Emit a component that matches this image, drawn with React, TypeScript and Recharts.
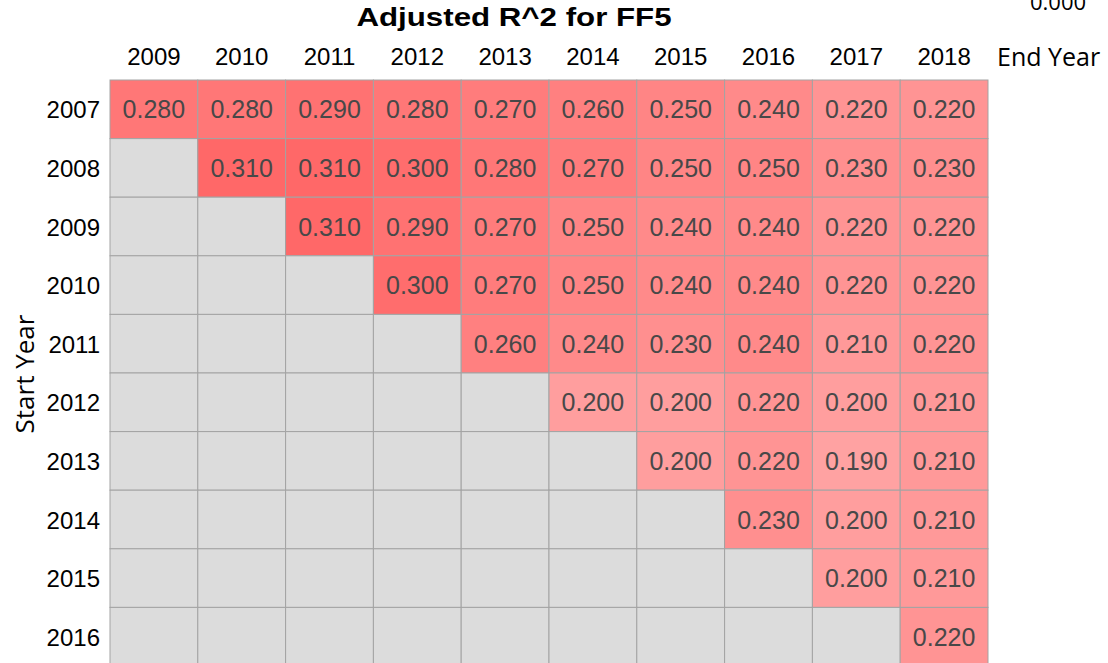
import React from "react";
import { Scatter, ScatterChart, XAxis, YAxis } from "recharts";

const startYears = [2007, 2008, 2009, 2010, 2011, 2012, 2013, 2014, 2015, 2016];
const endYears = [2009, 2010, 2011, 2012, 2013, 2014, 2015, 2016, 2017, 2018];

// one row per start year, one value per end year (null = no window)
const r2007 = [0.28, 0.28, 0.29, 0.28, 0.27, 0.26, 0.25, 0.24, 0.22, 0.22];
const r2008 = [null, 0.31, 0.31, 0.3, 0.28, 0.27, 0.25, 0.25, 0.23, 0.23];
const r2009 = [null, null, 0.31, 0.29, 0.27, 0.25, 0.24, 0.24, 0.22, 0.22];
const r2010 = [null, null, null, 0.3, 0.27, 0.25, 0.24, 0.24, 0.22, 0.22];
const r2011 = [null, null, null, null, 0.26, 0.24, 0.23, 0.24, 0.21, 0.22];
const r2012 = [null, null, null, null, null, 0.2, 0.2, 0.22, 0.2, 0.21];
const r2013 = [null, null, null, null, null, null, 0.2, 0.22, 0.19, 0.21];
const r2014 = [null, null, null, null, null, null, null, 0.23, 0.2, 0.21];
const r2015 = [null, null, null, null, null, null, null, null, 0.2, 0.21];
const r2016 = [null, null, null, null, null, null, null, null, null, 0.22];

const rows: (number | null)[][] = [r2007, r2008, r2009, r2010, r2011, r2012, r2013, r2014, r2015, r2016];

const W = 1108;
const H = 670;
const MARGIN = { top: 0, right: 120, bottom: 4, left: 10 };
const Y_AXIS_W = 100;
const X_AXIS_H = 80;
const PLOT_W = W - MARGIN.left - MARGIN.right - Y_AXIS_W;
const PLOT_H = H - MARGIN.top - MARGIN.bottom - X_AXIS_H;
const CELL_W = PLOT_W / endYears.length;
const CELL_H = PLOT_H / startYears.length;

const ARIAL = "'Liberation Sans', Arial, sans-serif";
const SANS = "'Open Sans', 'Noto Sans', sans-serif";

type Cell = { end: number; start: number; value: number | null };

const cells: Cell[] = [];
startYears.forEach((s, i) => {
  endYears.forEach((e, j) => {
    cells.push({ end: e, start: s, value: rows[i][j] });
  });
});

// white -> red, same ramp the source used
function cellColor(v: number | null) {
  if (v == null) return "#dcdcdc";
  const g = Math.round(255 - 487 * v);
  return `rgb(255, ${g}, ${g})`;
}

function CellShape(props: any) {
  const { cx, cy, payload } = props;
  if (cx == null || cy == null) return null;
  const v = payload.value as number | null;
  return (
    <g>
      <rect
        x={cx - CELL_W / 2}
        y={cy - CELL_H / 2}
        width={CELL_W}
        height={CELL_H}
        fill={cellColor(v)}
        stroke="#a3a3a3"
        strokeWidth={1}
      />
      {v != null && (
        <text
          x={cx}
          y={cy + 9}
          textAnchor="middle"
          fontFamily={ARIAL}
          fontSize={25}
          fill="#484848"
        >
          {v.toFixed(3)}
        </text>
      )}
    </g>
  );
}

function TopTick(props: any) {
  const { x, y, payload } = props;
  return (
    <text x={x} y={y - 7} textAnchor="middle" fontFamily={ARIAL} fontSize={24} fill="#000">
      {payload.value}
    </text>
  );
}

function LeftTick(props: any) {
  const { x, y, payload } = props;
  return (
    <text x={x - 2} y={y + 9} textAnchor="end" fontFamily={ARIAL} fontSize={24} fill="#000">
      {payload.value}
    </text>
  );
}

export default function App() {
  return (
    <div style={{ position: "absolute", left: 0, top: 0, width: W, height: 663, overflow: "hidden", background: "#fff" }}>
      <ScatterChart width={W} height={H} margin={MARGIN}>
        <XAxis
          type="number"
          dataKey="end"
          orientation="top"
          domain={[endYears[0] - 0.5, endYears[endYears.length - 1] + 0.5]}
          ticks={endYears}
          height={X_AXIS_H}
          axisLine={false}
          tickLine={false}
          tick={<TopTick />}
          interval={0}
        />
        <YAxis
          type="number"
          dataKey="start"
          reversed
          domain={[startYears[0] - 0.5, startYears[startYears.length - 1] + 0.5]}
          ticks={startYears}
          width={Y_AXIS_W}
          axisLine={false}
          tickLine={false}
          tick={<LeftTick />}
          interval={0}
        />
        <Scatter data={cells} shape={<CellShape />} isAnimationActive={false} />
      </ScatterChart>
      <div
        style={{
          position: "absolute",
          left: 514,
          top: 17,
          transform: "translate(-50%, -50%) scaleX(1.25)",
          whiteSpace: "nowrap",
          fontFamily: ARIAL,
          fontWeight: "bold",
          fontSize: 25,
          lineHeight: "30px",
          color: "#000",
        }}
      >
        Adjusted R^2 for FF5
      </div>
      <div style={{ position: "absolute", left: 997, top: 39, fontFamily: SANS, fontSize: 25, lineHeight: "34px", color: "#000" }}>
        End Year
      </div>
      <div style={{ position: "absolute", left: 1030, top: -14, fontFamily: SANS, fontSize: 22, lineHeight: "30px", color: "#000" }}>
        0.000
      </div>
      <div
        style={{
          position: "absolute",
          left: 24,
          top: 374,
          transform: "translate(-50%, -50%) rotate(-90deg)",
          whiteSpace: "nowrap",
          fontFamily: SANS,
          fontSize: 26,
          lineHeight: "32px",
          color: "#000",
        }}
      >
        Start Year
      </div>
    </div>
  );
}
